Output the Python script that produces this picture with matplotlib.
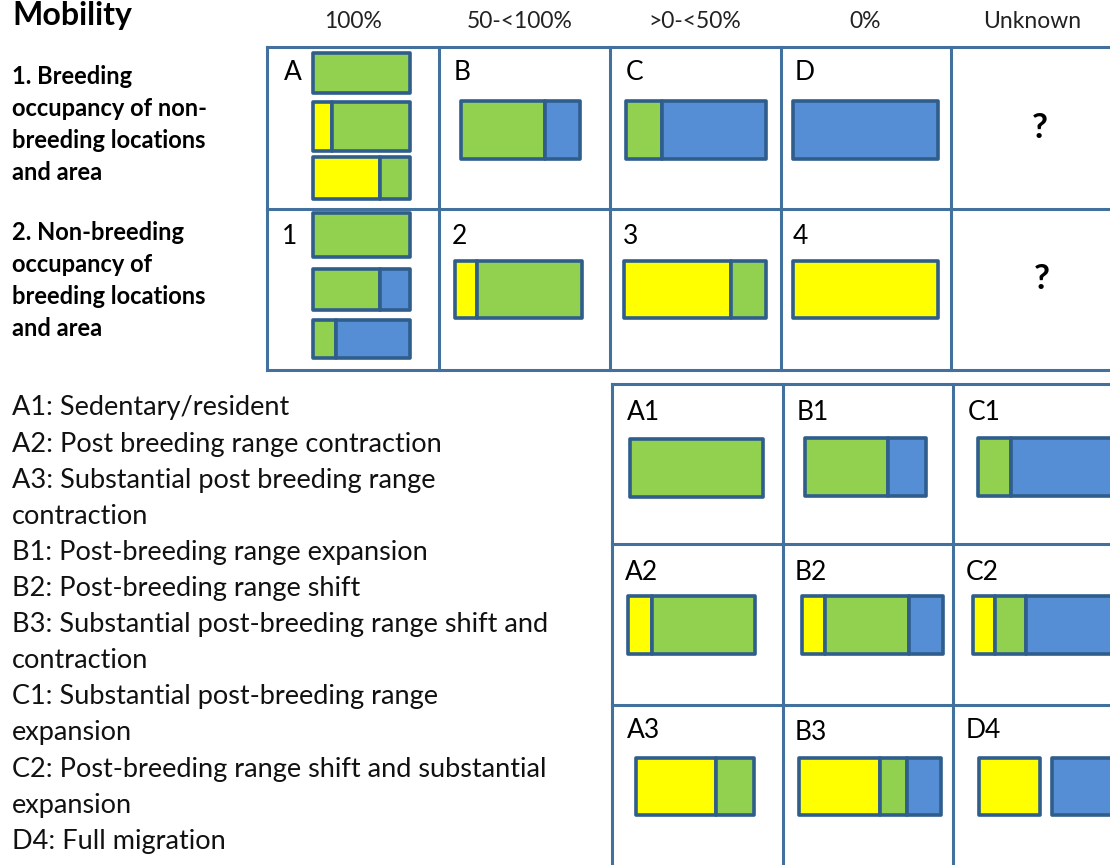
import matplotlib
matplotlib.use("Agg")
import matplotlib.pyplot as plt

plt.rcParams["font.family"] = ["Lato", "DejaVu Sans"]

# ---- content -------------------------------------------------------------
col_heads = ["100%", "50-<100%", ">0-<50%", "0%", "Unknown"]
row1_title = ["1. Breeding", "occupancy of non-", "breeding locations", "and area"]
row2_title = ["2. Non-breeding", "occupancy of", "breeding locations", "and area"]
row1_letters = ["A", "B", "C", "D"]
row2_letters = ["1", "2", "3", "4"]

# segment shares per bar: (yellow, green, blue)
cell_A = [(0, 1, 0), (0.20, 0.80, 0), (0.69, 0.31, 0)]
cell_1 = [(0, 1, 0), (0, 0.69, 0.31), (0, 0.24, 0.76)]
row1_bars = [(0, 0.71, 0.29), (0, 0.26, 0.74), (0, 0, 1)]
row2_bars = [(0.17, 0.83, 0), (0.75, 0.25, 0), (1, 0, 0)]

combo_labels = ["A1", "B1", "C1", "A2", "B2", "C2", "A3", "B3", "D4"]
combo_bars = [
    (0, 1, 0), (0, 0.69, 0.31), (0, 0.20, 0.80),
    (0.19, 0.81, 0), (0.16, 0.60, 0.24), (0.13, 0.19, 0.68),
    (0.68, 0.32, 0), (0.57, 0.19, 0.24), None,   # D4 drawn as two boxes
]

legend_lines = [
    "A1: Sedentary/resident",
    "A2: Post breeding range contraction",
    "A3: Substantial post breeding range",
    "contraction",
    "B1: Post-breeding range expansion",
    "B2: Post-breeding range shift",
    "B3: Substantial post-breeding range shift and",
    "contraction",
    "C1: Substantial post-breeding range",
    "expansion",
    "C2: Post-breeding range shift and substantial",
    "expansion",
    "D4: Full migration",
]

# ---- style / layout ------------------------------------------------------
YEL, GRN, BLU = "#ffff00", "#92d050", "#558ed5"
EDGE = "#2f5d8c"
GRID = "#41719c"
W, H = 1110, 865

fig = plt.figure(figsize=(W / 100, H / 100), dpi=100)
ax = fig.add_axes([0, 0, 1, 1])
ax.set_xlim(0, W)
ax.set_ylim(H, 0)
ax.axis("off")


def stacked(x0, x1, y0, y1, shares):
    left = x0
    for share, col in zip(shares, (YEL, GRN, BLU)):
        if share <= 0:
            continue
        w = share * (x1 - x0)
        ax.barh((y0 + y1) / 2, w, height=y1 - y0, left=left, color=col,
                edgecolor=EDGE, linewidth=2.6, joinstyle="round")
        left += w


def gline(xs, ys):
    ax.plot(xs, ys, color=GRID, lw=2.2, solid_capstyle="projecting")


# top grid
tx = [267, 439, 610, 781, 951]
ty = [47, 209, 370]
for y in ty:
    gline([267, W + 5], [y, y])
for x in tx:
    gline([x, x], [47, 370])

ax.text(12, 15, "Mobility", fontsize=23, fontweight="bold", va="center", ha="left")
for x, lab in zip([353, 520, 695, 865, 1032], col_heads):
    ax.text(x, 22, lab, fontsize=16.5, ha="center", va="center", color="#222222")

for i, ln in enumerate(row1_title):
    ax.text(12, 76 + 32 * i, ln, fontsize=17, fontweight="bold", va="center")
for i, ln in enumerate(row2_title):
    ax.text(12, 232 + 32 * i, ln, fontsize=17, fontweight="bold", va="center")

# cell letters
for x, lab in zip([284, 454, 626, 795], row1_letters):
    ax.text(x, 72, lab, fontsize=19, va="center", ha="left")
for x, lab in zip([282, 452, 623, 793], row2_letters):
    ax.text(x, 237, lab, fontsize=19, va="center", ha="left")
ax.text(1040, 128, "?", fontsize=25, fontweight="bold", ha="center", va="center")
ax.text(1042, 279, "?", fontsize=25, fontweight="bold", ha="center", va="center")

# cell A / cell 1 stacks
for (y0, y1), sh in zip([(53, 93), (102, 151), (157, 199)], cell_A):
    stacked(313, 410, y0, y1, sh)
for (y0, y1), sh in zip([(213, 257), (269, 310), (320, 358)], cell_1):
    stacked(313, 410, y0, y1, sh)

for (x0, x1), sh in zip([(461, 580), (626, 766), (793, 938)], row1_bars):
    stacked(x0, x1, 101, 159, sh)
for (x0, x1), sh in zip([(455, 582), (624, 766), (793, 938)], row2_bars):
    stacked(x0, x1, 261, 318, sh)

# bottom grid
bx = [612, 783, 953]
by = [384, 544, 705]
for y in by:
    gline([612, W + 5], [y, y])
for x in bx:
    gline([x, x], [384, H + 5])

label_pos = [(627, 412), (797, 412), (968, 412),
             (625, 572), (795, 573), (966, 573),
             (627, 730), (795, 733), (966, 731)]
bar_pos = [(630, 763, 439, 497), (805, 926, 438, 496), (978, 1145, 438, 496),
           (628, 755, 596, 654), (802, 943, 596, 654), (973, 1140, 596, 654),
           (636, 754, 758, 815), (799, 941, 758, 815), None]
for lab, (lx, ly), bp, sh in zip(combo_labels, label_pos, bar_pos, combo_bars):
    ax.text(lx, ly, lab, fontsize=19, va="center", ha="left")
    if sh is not None:
        stacked(bp[0], bp[1], bp[2], bp[3], sh)
# D4: separate breeding (yellow) and non-breeding (blue) boxes
stacked(979, 1040, 758, 815, (1, 0, 0))
stacked(1052, 1150, 758, 815, (0, 0, 1))

for i, ln in enumerate(legend_lines):
    ax.text(12, 408 + 36.1 * i, ln, fontsize=19.5, va="center", ha="left", color="#111111")

fig.savefig("out.png", dpi=100)
